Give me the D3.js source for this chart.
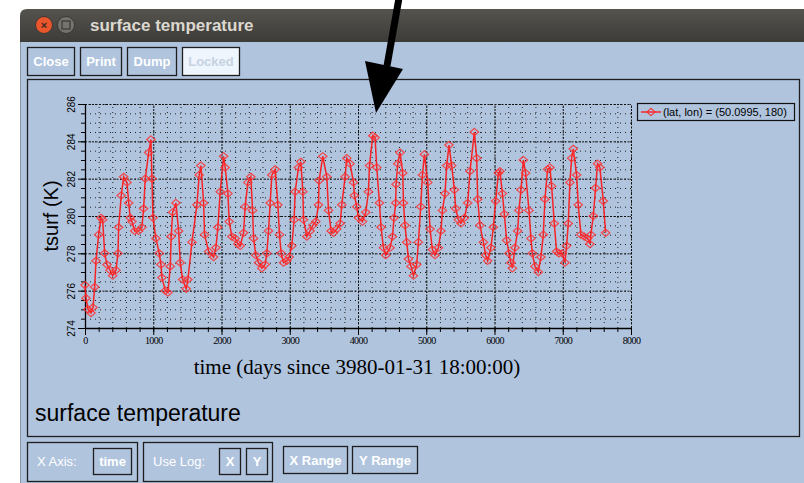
<!DOCTYPE html>
<html>
<head>
<meta charset="utf-8">
<title>surface temperature</title>
<style>
  body { margin: 0; background: #fff; }
  svg { display: block; }
  .btn text { font-family: "Liberation Sans", Arial, sans-serif; font-weight: bold; font-size: 13px; fill: #fff; }
</style>
</head>
<body>
<svg></svg>
<script src="https://d3js.org/d3.v7.min.js"></script>
<script>
// time (days since 3980-01-31 18:00:00)
var days = [0, 15, 44, 88, 117, 142, 161, 200, 234, 259, 288, 322, 366, 405, 454, 483, 493, 531, 567, 615,
  640, 663, 688, 728, 786, 834, 859, 883, 933, 966, 981, 996, 1039, 1088, 1113, 1127, 1176, 1215, 1249, 1263,
  1284, 1332, 1372, 1395, 1430, 1483, 1508, 1567, 1640, 1673, 1698, 1738, 1752, 1811, 1884, 1918, 1947, 1981, 2031, 2054,
  2094, 2113, 2152, 2200, 2240, 2274, 2323, 2347, 2386, 2430, 2455, 2470, 2503, 2543, 2591, 2640, 2664, 2689, 2713, 2738,
  2786, 2826, 2850, 2874, 2909, 2957, 2991, 3030, 3064, 3079, 3128, 3162, 3192, 3202, 3250, 3298, 3338, 3382, 3421, 3430,
  3484, 3543, 3568, 3606, 3641, 3689, 3738, 3763, 3811, 3836, 3884, 3934, 3948, 3982, 4007, 4066, 4114, 4153, 4168, 4216,
  4250, 4275, 4314, 4338, 4373, 4407, 4470, 4505, 4528, 4553, 4557, 4582, 4616, 4656, 4666, 4689, 4714, 4739, 4777, 4812,
  4860, 4885, 4919, 4944, 4973, 5022, 5055, 5090, 5128, 5178, 5216, 5237, 5275, 5300, 5333, 5373, 5412, 5431, 5471, 5509,
  5559, 5607, 5641, 5705, 5739, 5754, 5787, 5837, 5871, 5900, 5948, 5983, 6017, 6057, 6080, 6115, 6144, 6178, 6212, 6241,
  6262, 6300, 6339, 6358, 6388, 6423, 6456, 6505, 6534, 6554, 6593, 6642, 6680, 6715, 6739, 6778, 6812, 6837, 6876, 6910,
  6944, 6993, 7032, 7056, 7081, 7105, 7130, 7154, 7203, 7227, 7266, 7315, 7364, 7398, 7412, 7447, 7481, 7510, 7544, 7594,
  7628];
// tsurf (K)
var tsurf = [276.3, 275.6, 275.0, 274.8, 275.1, 276.2, 277.6, 279.0, 279.9, 279.8, 278.0, 277.4, 277.1, 276.8, 277.1, 278.0, 279.4, 281.1, 282.1, 281.8,
  280.7, 279.9, 279.7, 279.2, 279.2, 279.4, 280.4, 282.0, 283.4, 284.1, 282.0, 279.9, 278.8, 278.0, 277.4, 276.7, 276.0, 275.9, 277.3, 278.9,
  280.2, 280.7, 279.2, 277.5, 276.6, 276.1, 276.6, 278.6, 280.6, 282.2, 282.7, 280.7, 279.0, 278.1, 277.8, 278.3, 279.4, 281.3, 283.2, 282.6,
  281.2, 279.7, 278.9, 278.8, 278.5, 278.4, 279.1, 280.5, 281.8, 282.1, 280.3, 278.8, 277.9, 277.5, 277.2, 277.4, 278.0, 279.2, 280.7, 282.2,
  282.5, 280.6, 279.0, 278.0, 277.5, 277.6, 277.8, 278.4, 279.8, 281.3, 282.6, 282.9, 281.3, 279.8, 278.9, 279.2, 279.5, 279.7, 280.6, 281.9,
  283.2, 282.1, 280.3, 279.2, 279.1, 279.3, 279.6, 280.6, 282.1, 283.1, 282.8, 281.8, 281.1, 280.5, 279.9, 279.7, 280.2, 281.3, 282.7, 284.3,
  284.2, 282.6, 280.7, 279.4, 278.3, 277.9, 278.3, 278.9, 279.9, 280.7, 281.7, 282.8, 283.4, 282.3, 280.7, 279.5, 278.6, 277.7, 277.3, 276.8,
  277.4, 278.6, 280.5, 282.2, 283.3, 281.8, 279.3, 278.2, 277.9, 278.3, 279.2, 280.3, 281.2, 282.7, 283.8, 282.7, 281.4, 280.4, 279.8, 279.6,
  279.9, 280.7, 282.4, 284.5, 283.1, 280.9, 279.5, 278.6, 277.9, 277.6, 278.3, 279.4, 280.8, 282.3, 282.4, 281.2, 280.1, 278.7, 278.0, 277.5,
  277.2, 278.3, 279.2, 280.3, 281.4, 283.0, 282.3, 280.3, 278.8, 278.0, 277.3, 277.0, 277.8, 279.0, 280.9, 282.5, 282.6, 281.6, 279.6, 278.1,
  278.0, 278.0, 277.5, 278.4, 279.6, 281.8, 283.1, 283.6, 282.2, 280.6, 279.0, 278.9, 278.8, 278.5, 279.0, 280.0, 281.5, 282.8, 282.6, 280.8,
  279.1];

var xTicks = [0, 1000, 2000, 3000, 4000, 5000, 6000, 7000, 8000];
var yTicks = [274, 276, 278, 280, 282, 284, 286];
var legendLabel = "(lat, lon) = (50.0995, 180)";
var windowTitle = "surface temperature";
var xTitle = "time (days since 3980-01-31 18:00:00)";
var yTitle = "tsurf (K)";

var width = 804, height = 483;
var svg = d3.select("svg").attr("width", width).attr("height", height);
var bg = "#b0c4de";

// ---- window chrome ----
svg.append("rect").attr("width", width).attr("height", height).attr("fill", "#fff");
svg.append("rect").attr("x", 20).attr("y", 40).attr("width", 784).attr("height", 443).attr("fill", bg);
svg.append("line").attr("x1", 20.5).attr("x2", 20.5).attr("y1", 40).attr("y2", 483).attr("stroke", "#8a96a6");

var grad = svg.append("defs").append("linearGradient").attr("id", "tb").attr("x1", 0).attr("x2", 0).attr("y1", 0).attr("y2", 1);
grad.append("stop").attr("offset", 0).attr("stop-color", "#55534e");
grad.append("stop").attr("offset", 1).attr("stop-color", "#3d3c38");
svg.append("path")
  .attr("d", "M20,42 L20,16 Q20,9 27,9 L804,9 L804,42 Z")
  .attr("fill", "url(#tb)");
svg.append("circle").attr("cx", 44).attr("cy", 25).attr("r", 8.5).attr("fill", "#e9562b").attr("stroke", "#3a3935");
svg.append("text").attr("x", 44).attr("y", 29).attr("text-anchor", "middle")
  .style("font", "bold 11px 'Liberation Sans', sans-serif").attr("fill", "#3b2a25").text("×");
svg.append("circle").attr("cx", 66).attr("cy", 25).attr("r", 8.5).attr("fill", "#75736e").attr("stroke", "#3a3935");
svg.append("rect").attr("x", 62).attr("y", 21).attr("width", 8).attr("height", 8)
  .attr("fill", "none").attr("stroke", "#3e3d39").attr("stroke-width", 1.3);
svg.append("text").attr("x", 90).attr("y", 31)
  .style("font", "bold 17px 'Liberation Sans', sans-serif").attr("fill", "#dcd8cf").text(windowTitle);

function button(x, y, w, h, label, locked) {
  var g = svg.append("g").attr("class", "btn");
  g.append("rect").attr("x", x + 0.5).attr("y", y + 0.5).attr("width", w).attr("height", h)
    .attr("fill", locked ? "#eef5fc" : bg).attr("stroke", "#1e1e1e").attr("stroke-width", 1.3);
  g.append("text").attr("x", x + w / 2 + 0.5).attr("y", y + h / 2 + 5).attr("text-anchor", "middle")
    .style("fill", locked ? "#c5d2e2" : "#fff").text(label);
}
button(27, 47, 47, 28, "Close");
button(80, 47, 41, 28, "Print");
button(127, 47, 49, 28, "Dump");
button(182, 47, 57, 28, "Locked", true);

// main panel
svg.append("rect").attr("x", 27.5).attr("y", 79.5).attr("width", 772).attr("height", 357)
  .attr("fill", "none").attr("stroke", "#1e1e1e").attr("stroke-width", 1.3);

// bottom controls
function groupBox(x, y, w, h) {
  svg.append("rect").attr("x", x + 0.5).attr("y", y + 0.5).attr("width", w).attr("height", h)
    .attr("fill", "none").attr("stroke", "#1e1e1e").attr("stroke-width", 1.3);
}
function label(x, y, t) {
  svg.append("text").attr("x", x).attr("y", y)
    .style("font", "13px 'Liberation Sans', sans-serif").attr("fill", "#fff").text(t);
}
groupBox(27, 442, 110, 39);
label(37, 466, "X Axis:");
button(93, 448, 38, 26, "time");
groupBox(143, 442, 129, 39);
label(153, 466, "Use Log:");
button(219, 448, 21, 26, "X");
button(246, 448, 21, 26, "Y");
button(283, 446, 64, 27, "X Range");
button(352, 446, 65, 27, "Y Range");

// ---- plot ----
var x = d3.scaleLinear().domain([0, 8000]).range([85, 631]);
var y = d3.scaleLinear().domain([274, 286]).range([328, 104]);
var plot = svg.append("g");

// grid
plot.append("g").attr("transform", "translate(0,328)")
  .call(d3.axisBottom(x).ticks(32).tickSize(-224).tickFormat(""))
  .call(g => g.select(".domain").remove())
  .call(g => g.selectAll("line").attr("stroke", "#222").attr("stroke-dasharray", "1,4"));
plot.append("g").attr("transform", "translate(85,0)")
  .call(d3.axisLeft(y).ticks(24).tickSize(-546).tickFormat(""))
  .call(g => g.select(".domain").remove())
  .call(g => g.selectAll("line").attr("stroke", "#222").attr("stroke-dasharray", "1,4"));
plot.append("g").attr("transform", "translate(0,328)")
  .call(d3.axisBottom(x).tickValues(xTicks).tickSize(-224).tickFormat(""))
  .call(g => g.select(".domain").remove())
  .call(g => g.selectAll("line").attr("stroke", "#111").attr("stroke-dasharray", "2,1.5"));
plot.append("g").attr("transform", "translate(85,0)")
  .call(d3.axisLeft(y).tickValues(yTicks).tickSize(-546).tickFormat(""))
  .call(g => g.select(".domain").remove())
  .call(g => g.selectAll("line").attr("stroke", "#111").attr("stroke-dasharray", "2,1.5"));

// axes
plot.append("g").attr("transform", "translate(0,328)")
  .call(d3.axisBottom(x).ticks(32).tickSize(4).tickFormat("").tickSizeOuter(0))
  .call(g => g.select(".domain").remove())
  .call(g => g.selectAll("line").attr("stroke", "#000"));
var xAxis = plot.append("g").attr("transform", "translate(0,328)")
  .call(d3.axisBottom(x).tickValues(xTicks).tickSize(7).tickSizeOuter(0).tickFormat(d3.format("d")));
xAxis.select(".domain").attr("stroke", "#000").attr("stroke-width", 1.3);
xAxis.selectAll("text").attr("y", 9)
  .style("font", "10px 'Liberation Serif', serif").attr("fill", "#000").attr("letter-spacing", "-0.6");

plot.append("g").attr("transform", "translate(85,0)")
  .call(d3.axisLeft(y).ticks(24).tickSize(4).tickFormat("").tickSizeOuter(0))
  .call(g => g.select(".domain").remove())
  .call(g => g.selectAll("line").attr("stroke", "#000"));
var yAxis = plot.append("g").attr("transform", "translate(85,0)")
  .call(d3.axisLeft(y).tickValues(yTicks).tickSize(7).tickSizeOuter(0));
yAxis.select(".domain").attr("stroke", "#000").attr("stroke-width", 1.3);
yAxis.selectAll("text")
  .attr("transform", "rotate(-90)").attr("x", 0).attr("y", -10).attr("dy", 0)
  .attr("text-anchor", "middle")
  .style("font", "10px 'Liberation Sans', sans-serif").attr("fill", "#000");

// titles
svg.append("text").attr("transform", "translate(58,216) rotate(-90)").attr("text-anchor", "middle")
  .style("font", "20px 'Liberation Sans', sans-serif").attr("fill", "#000").text(yTitle);
svg.append("text").attr("x", 357).attr("y", 374).attr("text-anchor", "middle")
  .style("font", "21px 'Liberation Serif', serif").attr("fill", "#000").text(xTitle);
svg.append("text").attr("x", 35).attr("y", 421)
  .style("font", "23px 'Liberation Sans', sans-serif").attr("fill", "#000").text(windowTitle);

// series
var pts = days.map((d, i) => [d, tsurf[i]]);
var red = "#ff1212";
plot.append("path").datum(pts)
  .attr("d", d3.line().x(d => x(d[0])).y(d => y(d[1])))
  .attr("fill", "none").attr("stroke", red).attr("stroke-width", 1.5).attr("stroke-opacity", 0.9);
var diamond = "M0,-3.6L4.2,0L0,3.6L-4.2,0Z";
plot.append("g").selectAll("path").data(pts).join("path")
  .attr("transform", d => "translate(" + x(d[0]) + "," + y(d[1]) + ")")
  .attr("d", diamond)
  .attr("fill", "none").attr("stroke", "#ff3030").attr("stroke-width", 1.2).attr("stroke-opacity", 0.85);

// legend
var lg = svg.append("g").attr("transform", "translate(637,103)");
lg.append("rect").attr("x", 0.5).attr("y", 0.5).attr("width", 157).attr("height", 17)
  .attr("fill", bg).attr("stroke", "#111").attr("stroke-width", 1.2);
lg.append("line").attr("x1", 4).attr("x2", 24).attr("y1", 9).attr("y2", 9).attr("stroke", red).attr("stroke-width", 1.3);
lg.append("path").attr("transform", "translate(14,9)").attr("d", diamond)
  .attr("fill", "none").attr("stroke", "#ff3030").attr("stroke-width", 1.1);
lg.append("text").attr("x", 26).attr("y", 13)
  .style("font", "11px 'Liberation Sans', sans-serif").attr("fill", "#000").text(legendLabel);

// annotation arrow
svg.append("line").attr("x1", 399).attr("y1", -2).attr("x2", 387).attr("y2", 66)
  .attr("stroke", "#000").attr("stroke-width", 7);
svg.append("path").attr("d", "M365,61 L403,69 L376,113 Z").attr("fill", "#000");
</script>
</body>
</html>
